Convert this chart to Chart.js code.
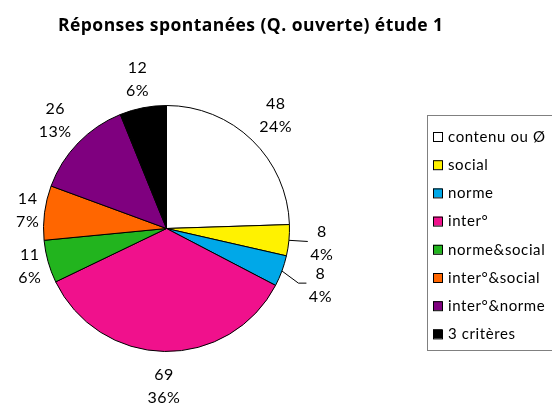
<!DOCTYPE html>
<html>
<head>
<meta charset="utf-8">
<script src="https://cdn.jsdelivr.net/npm/chart.js@4/dist/chart.umd.min.js"></script>
<style>
  html, body { margin: 0; padding: 0; background: #fff; }
  #wrap { width: 552px; height: 403px; position: relative; }
</style>
</head>
<body>
<div id="wrap"><canvas id="c" width="552" height="403"></canvas></div>
<script>
const chartTitle = 'Réponses spontanées (Q. ouverte) étude 1';
const categories = ['contenu ou Ø', 'social', 'norme', 'inter°', 'norme&social', 'inter°&social', 'inter°&norme', '3 critères'];
const counts = [48, 8, 8, 69, 11, 14, 26, 12];
const percentLabels = ['24%', '4%', '4%', '36%', '6%', '7%', '13%', '6%'];
const sliceColors = ['#ffffff', '#fff200', '#00a8e8', '#f0118c', '#22b41e', '#ff6600', '#7f007f', '#000000'];

const FONT = 'Lato, "Open Sans", sans-serif';

// distance of each label centre beyond the pie edge
const labelOffset = [34, 33, 41, 35, 19, 17, 32, 29];

// adjust glyph spacing so the text reaches the wanted width (Calibri-like spacing)
const spacingFor = (ctx, text, width) => {
    ctx.letterSpacing = '0px';
    const w = ctx.measureText(text).width;
    return (width - w) / (text.length - 1);
};

const pieLabels = {
    id: 'pieLabels',
    afterDatasetsDraw(chart) {
        const ctx = chart.ctx;
        const meta = chart.getDatasetMeta(0);
        ctx.save();
        ctx.font = '16px ' + FONT;
        ctx.letterSpacing = '0.5px';
        ctx.fillStyle = '#000';
        ctx.textAlign = 'center';
        ctx.textBaseline = 'middle';
        meta.data.forEach((arc, i) => {
            const { x, y, startAngle, endAngle, outerRadius } = arc.getProps(['x', 'y', 'startAngle', 'endAngle', 'outerRadius'], true);
            const mid = (startAngle + endAngle) / 2;
            const d = outerRadius + labelOffset[i];
            const lx = x + Math.cos(mid) * d;
            const ly = y + Math.sin(mid) * d;
            ctx.fillText(String(counts[i]), lx, ly - 11.5);
            ctx.fillText(percentLabels[i], lx, ly + 11.5);

            // leader lines for the two thin slices
            if (i === 1 || i === 2) {
                const ex = x + Math.cos(mid) * outerRadius;
                const ey = y + Math.sin(mid) * outerRadius;
                ctx.strokeStyle = '#000';
                ctx.lineWidth = 1;
                ctx.beginPath();
                ctx.moveTo(ex, ey);
                if (i === 1) {
                    ctx.lineTo(lx - 14, ly - 2);
                } else {
                    ctx.lineTo(lx - 22, ly - 2);
                    ctx.lineTo(lx - 14, ly - 2);
                }
                ctx.stroke();
            }
        });
        ctx.restore();
    }
};

const titleAndLegend = {
    id: 'titleAndLegend',
    afterDraw(chart) {
        const ctx = chart.ctx;
        ctx.save();
        ctx.fillStyle = '#000';
        ctx.font = 'bold 17.5px "Open Sans", sans-serif';
        ctx.textAlign = 'left';
        ctx.textBaseline = 'alphabetic';
        ctx.letterSpacing = spacingFor(ctx, chartTitle, 385) + 'px';
        ctx.fillText(chartTitle, 58, 31);

        // legend frame (runs off the right side)
        ctx.letterSpacing = '0px';
        ctx.strokeStyle = '#808080';
        ctx.lineWidth = 1;
        ctx.strokeRect(427.5, 115.5, 140, 235);

        ctx.font = '15px ' + FONT;
        ctx.textBaseline = 'middle';
        const ls = spacingFor(ctx, categories[0], 97) + 'px';
        categories.forEach((name, i) => {
            const cy = 137 + i * 28.2;
            ctx.fillStyle = sliceColors[i];
            ctx.fillRect(433, cy - 5, 9, 9);
            ctx.strokeStyle = '#000';
            ctx.strokeRect(433.5, cy - 4.5, 9, 9);
            ctx.fillStyle = '#000';
            ctx.letterSpacing = ls;
            ctx.fillText(name, 448, cy);
            ctx.letterSpacing = '0px';
        });
        ctx.restore();
    }
};

new Chart(document.getElementById('c'), {
    type: 'pie',
    data: {
        labels: categories,
        datasets: [{
            data: counts,
            backgroundColor: sliceColors,
            borderColor: '#000',
            borderWidth: 1
        }]
    },
    options: {
        responsive: false,
        animation: false,
        layout: { padding: { left: 43, right: 262, top: 105, bottom: 51 } },
        plugins: {
            legend: { display: false },
            title: { display: false },
            tooltip: { enabled: false }
        }
    },
    plugins: [pieLabels, titleAndLegend]
});
</script>
</body>
</html>
